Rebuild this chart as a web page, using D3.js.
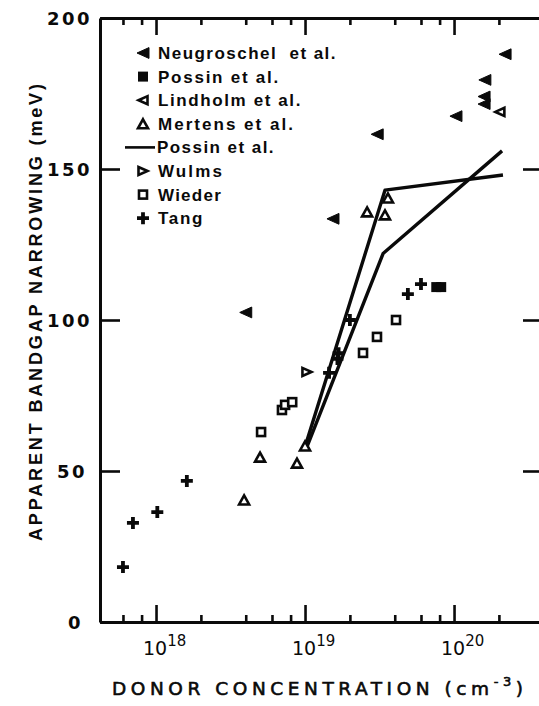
<!DOCTYPE html>
<html>
<head>
<meta charset="utf-8">
<script src="https://cdn.jsdelivr.net/npm/d3@7"></script>
<style>
  body { margin: 0; background: #fff; }
  svg { display: block; }
</style>
</head>
<body>
<div id="chart"></div>
<script>
// values: [donor concentration (cm^-3), narrowing (meV)]
var neugroschel = [[4.0e18, 102.5], [1.54e19, 133.5], [3.05e19, 161.5], [1.03e20, 167.5],
  [1.59e20, 171.5], [1.59e20, 174], [1.61e20, 179.5], [2.2e20, 188]];
var possinPts = [[7.6e19, 110.9], [8.2e19, 110.9]];
var lindholm = [[2.03e20, 168.9]];
var mertens = [[3.9e18, 40.4], [4.99e18, 54.6], [8.83e18, 52.6], [1.0e19, 58.3],
  [2.61e19, 135.8], [3.44e19, 134.8], [3.6e19, 140.4]];
var possinLineA = [[1.0e19, 58], [3.44e19, 143], [2.13e20, 148]];
var possinLineB = [[1.03e19, 58], [3.34e19, 122], [2.1e20, 156]];
var wulms = [[1.03e19, 82.8]];
var wieder = [[5.07e18, 62.9], [7.0e18, 70.2], [7.35e18, 71.9], [8.2e18, 72.8],
  [2.45e19, 89.1], [3.04e19, 94.4], [4.08e19, 100]];
var tang = [[6.0e17, 18.2], [7.0e17, 32.8], [1.02e18, 36.4], [1.61e18, 46.7],
  [1.45e19, 82.5], [1.65e19, 87.1], [1.68e19, 89], [2.0e19, 100],
  [4.9e19, 108.6], [6.0e19, 111.9]];

var majorX = [1e18, 1e19, 1e20];
var minorX = [6e17, 8e17, 2e18, 4e18, 6e18, 8e18, 2e19, 4e19, 6e19, 8e19, 2e20];
var yTicks = [0, 50, 100, 150, 200];
var xExp = ['18', '19', '20'];
var legendItems = [
  { key: 'fillLeft', label: 'Neugroschel  et al.' },
  { key: 'fillSquare', label: 'Possin et al.' },
  { key: 'openLeft', label: 'Lindholm et al.' },
  { key: 'openUp', label: 'Mertens et al.' },
  { key: 'line', label: 'Possin et al.' },
  { key: 'openRight', label: 'Wulms' },
  { key: 'openSquare', label: 'Wieder' },
  { key: 'plus', label: 'Tang' }
];
var legendEnds = [337, 280, 302, 295, 275, 224, 222, 204];

var ink = '#0a0a0a';
var svg = d3.select('#chart').append('svg')
  .attr('width', 539)
  .attr('height', 706);

var x = d3.scaleLog()
  .domain([Math.pow(10, 17.624), Math.pow(10, 20.597)])
  .range([100, 543]);
var y = d3.scaleLinear()
  .domain([0, 200])
  .range([622, 18]);

function fit(t, w) {
  var n = t.text().length;
  var len = t.node().getComputedTextLength();
  t.attr('letter-spacing', (w - len) / n);
}

function styleAxis(g) {
  g.select('.domain').attr('stroke', ink).attr('stroke-width', 3);
  g.selectAll('.tick line').attr('stroke', ink).attr('stroke-width', 2.6);
}

// bottom and top axes
svg.append('g').attr('transform', 'translate(0,622)')
  .call(d3.axisBottom(x).tickValues(majorX).tickSize(-17).tickSizeOuter(0).tickFormat(''))
  .call(styleAxis);
svg.append('g').attr('transform', 'translate(0,622)')
  .call(d3.axisBottom(x).tickValues(minorX).tickSize(-7).tickSizeOuter(0).tickFormat(''))
  .call(styleAxis);
svg.append('g').attr('transform', 'translate(0,18)')
  .call(d3.axisTop(x).tickValues(majorX).tickSize(-17).tickSizeOuter(0).tickFormat(''))
  .call(styleAxis);
svg.append('g').attr('transform', 'translate(0,18)')
  .call(d3.axisTop(x).tickValues(minorX).tickSize(-7).tickSizeOuter(0).tickFormat(''))
  .call(styleAxis);

// left and right axes
var left = svg.append('g').attr('transform', 'translate(100,0)')
  .call(d3.axisLeft(y).tickValues(yTicks).tickSize(-20).tickSizeOuter(0).tickPadding(8))
  .call(styleAxis);
left.selectAll('.tick text')
  .attr('fill', ink)
  .style('font-family', 'DejaVu Sans')
  .style('font-weight', 'bold')
  .style('font-size', '18px')
  .attr('letter-spacing', 2.5)
  .attr('dy', '0.38em')
  .attr('dx', function(d) { return d === 0 ? -9 : (d === 50 ? -5 : 0); });
svg.append('g').attr('transform', 'translate(543,0)')
  .call(d3.axisRight(y).tickValues(yTicks).tickSize(-20).tickSizeOuter(0).tickFormat(''))
  .call(styleAxis);

// x tick labels 10^n
majorX.forEach(function(v, i) {
  var t = svg.append('text')
    .attr('x', x(v) - 13)
    .attr('y', 655)
    .attr('fill', ink)
    .style('font-family', 'DejaVu Sans')
    .style('font-size', '19px');
  t.append('tspan').text('10');
  t.append('tspan').attr('dy', -9).style('font-size', '15px').text(xExp[i]);
});

// axis titles
var xt = svg.append('text')
  .attr('x', 112)
  .attr('y', 695)
  .attr('fill', ink)
  .attr('textLength', 411)
  .attr('lengthAdjust', 'spacing')
  .style('font-family', 'DejaVu Sans')
  .style('font-size', '18.5px')
  .style('stroke', ink)
  .style('stroke-width', 0.6);
xt.append('tspan').text('DONOR CONCENTRATION (cm');
xt.append('tspan').attr('dy', -9).style('font-size', '13px').text('-3');
xt.append('tspan').attr('dy', 9).text(')');

svg.append('text')
  .attr('transform', 'translate(42,541) rotate(-90)')
  .attr('fill', ink)
  .attr('textLength', 457)
  .attr('lengthAdjust', 'spacing')
  .style('font-family', 'Liberation Sans')
  .style('font-weight', 'bold')
  .style('font-size', '18px')
  .text('APPARENT BANDGAP NARROWING (meV)');

// marker shapes
function tri(dir, s) {
  var h = s * 0.9;
  if (dir === 'left') return 'M' + (-s / 2) + ',0L' + (s / 2) + ',' + (-h / 2) + 'L' + (s / 2) + ',' + (h / 2) + 'Z';
  if (dir === 'right') return 'M' + (s / 2) + ',0L' + (-s / 2) + ',' + (-h / 2) + 'L' + (-s / 2) + ',' + (h / 2) + 'Z';
  return 'M0,' + (-h / 2) + 'L' + (s / 2) + ',' + (h / 2) + 'L' + (-s / 2) + ',' + (h / 2) + 'Z';
}

function drawMarker(g, key) {
  if (key === 'fillLeft') {
    g.append('path').attr('d', tri('left', 12)).attr('fill', ink).attr('stroke', ink).attr('stroke-width', 1);
  } else if (key === 'openLeft') {
    g.append('path').attr('d', tri('left', 9)).attr('fill', '#fff').attr('stroke', ink).attr('stroke-width', 2.6);
  } else if (key === 'openRight') {
    g.append('path').attr('d', tri('right', 9)).attr('fill', '#fff').attr('stroke', ink).attr('stroke-width', 2.6);
  } else if (key === 'openUp') {
    g.append('path').attr('d', tri('up', 10)).attr('fill', '#fff').attr('stroke', ink).attr('stroke-width', 2.6);
  } else if (key === 'openSquare') {
    g.append('rect').attr('x', -4).attr('y', -4).attr('width', 8).attr('height', 8)
      .attr('fill', '#fff').attr('stroke', ink).attr('stroke-width', 2.6);
  } else if (key === 'fillSquare') {
    g.append('rect').attr('x', -5).attr('y', -5).attr('width', 10).attr('height', 10)
      .attr('fill', ink);
  } else if (key === 'plus') {
    g.append('path').attr('d', 'M-6,0H6M0,-6V6').attr('stroke', ink).attr('stroke-width', 3.8);
  }
}

function scatter(data, key) {
  svg.append('g').selectAll('g')
    .data(data)
    .join('g')
    .attr('transform', function(d) { return 'translate(' + x(d[0]) + ',' + y(d[1]) + ')'; })
    .each(function() { drawMarker(d3.select(this), key); });
}

var line = d3.line()
  .x(function(d) { return x(d[0]); })
  .y(function(d) { return y(d[1]); });

[possinLineA, possinLineB].forEach(function(l) {
  svg.append('path')
    .datum(l)
    .attr('d', line)
    .attr('fill', 'none')
    .attr('stroke', ink)
    .attr('stroke-width', 3.4)
    .attr('stroke-linejoin', 'round');
});

scatter(wieder, 'openSquare');
scatter(mertens, 'openUp');
scatter(wulms, 'openRight');
scatter(lindholm, 'openLeft');
scatter(neugroschel, 'fillLeft');
scatter(possinPts, 'fillSquare');
scatter(tang, 'plus');

// legend
var lg = svg.append('g');
legendItems.forEach(function(it, i) {
  var ry = 53 + i * 23.6;
  if (it.key === 'line') {
    lg.append('line').attr('x1', 125).attr('x2', 155).attr('y1', ry).attr('y2', ry)
      .attr('stroke', ink).attr('stroke-width', 2.6);
  } else {
    drawMarker(lg.append('g').attr('transform', 'translate(143,' + ry + ')'), it.key);
  }
  var tx = it.key === 'line' ? 157 : 158;
  var t = lg.append('text')
    .attr('x', tx)
    .attr('y', ry + 6)
    .attr('fill', ink)
    .style('font-family', 'Liberation Sans')
    .style('font-weight', 'bold')
    .style('font-size', '17px')
    .style('white-space', 'pre')
    .text(it.label);
  fit(t, legendEnds[i] - tx);
});
</script>
</body>
</html>
